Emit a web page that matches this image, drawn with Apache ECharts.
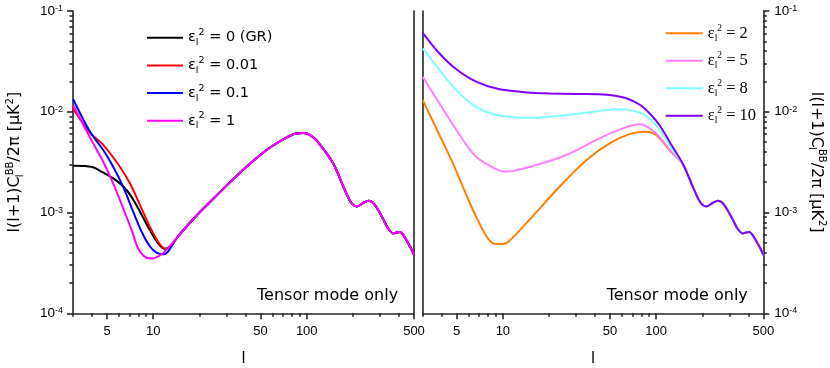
<!DOCTYPE html>
<html><head><meta charset="utf-8">
<script src="https://cdn.jsdelivr.net/npm/echarts@6/dist/echarts.min.js"></script>
<style>html,body{margin:0;padding:0;background:#fff}#c{width:830px;height:368px}</style>
</head><body><div id="c"></div><script>
// ---------- data (multipole l, l(l+1)C_l^BB/2pi in muK^2) ----------
// shared high-l tail (all curves)
const tailL = [150, 175, 195, 213, 235, 253, 270, 290, 315, 340, 367, 385, 405, 425, 450, 475, 500];
const tailV = [3.0e-3, 1.75e-3, 1.25e-3, 1.15e-3, 1.25e-3, 1.31e-3, 1.25e-3, 1.08e-3, 8.6e-4, 6.9e-4, 6.2e-4, 6.35e-4, 6.4e-4, 6.0e-4, 5.2e-4, 4.5e-4, 3.8e-4];
// shared mid-l part of the left panel curves
const midL = [14, 16, 20, 25, 30, 40, 50, 60, 70, 85, 95, 110, 125];
const midV = [5.4e-4, 6.9e-4, 1.0e-3, 1.4e-3, 1.85e-3, 2.8e-3, 3.75e-3, 4.6e-3, 5.3e-3, 6.1e-3, 6.15e-3, 5.6e-3, 4.5e-3];
// left panel, low l
const grL = [3, 4, 4.7, 5.5, 6.4, 7.2, 8.2, 9.5, 10.8, 11.9, 13];
const grV = [2.91e-3, 2.83e-3, 2.5e-3, 2.18e-3, 1.8e-3, 1.44e-3, 1.02e-3, 6.7e-4, 4.9e-4, 4.35e-4, 4.6e-4];
const e001L = [3, 3.86, 4.72, 6.06, 7.04, 8.19, 9.52, 10.78, 11.9, 13];
const e001V = [1.08e-2, 6.2e-3, 4.7e-3, 2.85e-3, 1.95e-3, 1.19e-3, 7.2e-4, 5.1e-4, 4.4e-4, 4.6e-4];
const e01L = [3, 3.86, 4.72, 5.48, 6.37, 7.4, 8.4, 9.52, 10.5, 11.6, 12.5];
const e01V = [1.34e-2, 6.4e-3, 4.17e-3, 2.85e-3, 1.8e-3, 1.02e-3, 6.45e-4, 4.6e-4, 4.0e-4, 3.85e-4, 4.1e-4];
const e1L = [3, 3.86, 4.72, 5.48, 6.37, 7.23, 7.98, 9.05, 10, 10.5, 11.5, 12.2];
const e1V = [1.17e-2, 5.6e-3, 3.19e-3, 1.95e-3, 1.1e-3, 6.7e-4, 4.4e-4, 3.56e-4, 3.5e-4, 3.6e-4, 3.9e-4, 4.3e-4];
// right panel, l < 150
const e2L = [3, 3.86, 4.72, 5.91, 6.69, 7.98, 9.05, 10, 11.05, 14.2, 23.4, 35, 49.6, 67, 86, 100, 122];
const e2V = [1.31e-2, 5.87e-3, 3.08e-3, 1.38e-3, 9.1e-4, 5.55e-4, 4.87e-4, 4.87e-4, 5.25e-4, 7.8e-4, 1.8e-3, 3.3e-3, 4.86e-3, 6.0e-3, 6.34e-3, 5.9e-3, 4.17e-3];
const e5L = [3, 3.86, 4.97, 6.69, 9.5, 10.5, 15.7, 25.9, 42.7, 60.6, 78, 100, 128];
const e5V = [2.22e-2, 1.21e-2, 6.6e-3, 3.58e-3, 2.6e-3, 2.55e-3, 2.9e-3, 3.72e-3, 5.45e-3, 6.84e-3, 7.5e-3, 6.1e-3, 3.87e-3];
const e8L = [3, 3.86, 4.97, 6.69, 9.5, 15.7, 25.9, 42.7, 55, 65, 78, 90, 105, 128];
const e8V = [4.26e-2, 2.6e-2, 1.64e-2, 1.12e-2, 9.2e-3, 8.7e-3, 9.3e-3, 1.02e-2, 1.06e-2, 1.05e-2, 9.8e-3, 8.6e-3, 6.7e-3, 4.17e-3];
const e10L = [3, 3.86, 4.97, 6.69, 9.5, 15.7, 20.1, 30, 42.7, 55, 63.9, 72, 81.6, 92, 105, 128];
const e10V = [6.08e-2, 3.79e-2, 2.64e-2, 1.99e-2, 1.67e-2, 1.54e-2, 1.52e-2, 1.5e-2, 1.49e-2, 1.43e-2, 1.36e-2, 1.26e-2, 1.12e-2, 9.4e-3, 7.4e-3, 4.5e-3];

const leftNames = ['GR', 'e0.01', 'e0.1', 'e1'];
const leftLegend = ['= 0 (GR)', '= 0.01', '= 0.1', '= 1'];
const leftColors = ['#000000', '#ff0000', '#0000ff', '#ff00ff'];
const rightNames = ['e2', 'e5', 'e8', 'e10'];
const rightLegend = ['= 2', '= 5', '= 8', '= 10'];
const rightColors = ['#ff8000', '#ff80ff', '#80ffff', '#8000ff'];

// axis ticks
const xRange = [3, 500];
const xMajorTicks = [5, 10, 50, 100, 500];
const xMinorTicks = [3, 4, 6, 7, 8, 9, 20, 30, 40, 60, 70, 80, 90, 200, 300, 400];
const yRange = [1e-4, 1e-1];
const yMajorTicks = [1e-4, 1e-3, 1e-2, 1e-1];
const yMinorMult = [2, 3, 4, 5, 6, 7, 8, 9];
const yMinorDecades = [1e-4, 1e-3, 1e-2];

// ---------- build ----------
const LG = Math.log10;
function pts(ls, vs) { return ls.map((l, i) => [LG(l), LG(vs[i])]); }
const yMinorTicks = [];
yMinorDecades.forEach(d => yMinorMult.forEach(m => yMinorTicks.push(d * m)));

const FONT = 'Liberation Sans';
const WIDE = 'DejaVu Sans';
const AX = { color: '#262626', width: 1.6 };

function xAxes(gi) {
  return [
    { type: 'value', gridIndex: gi, position: 'bottom', min: LG(xRange[0]), max: LG(xRange[1]),
      axisLine: { lineStyle: AX }, splitLine: { show: false },
      axisTick: { customValues: xMajorTicks.map(LG), length: 6, lineStyle: AX },
      axisLabel: { customValues: xMajorTicks.map(LG), margin: 12, fontSize: 13, fontFamily: FONT, color: '#000',
        formatter: v => String(Math.round(Math.pow(10, v))) },
      name: 'l', nameLocation: 'middle', nameGap: 37, nameTextStyle: { fontSize: 16, fontFamily: FONT, color: '#000' } },
    { type: 'value', gridIndex: gi, position: 'bottom', min: LG(xRange[0]), max: LG(xRange[1]),
      axisLine: { show: false }, splitLine: { show: false },
      axisTick: { customValues: xMinorTicks.map(LG), length: 3.5, lineStyle: AX },
      axisLabel: { show: false } }
  ];
}
const yLabelRich = {
  b: { fontSize: 13.5, lineHeight: 14, fontFamily: FONT, color: '#000' },
  s: { fontSize: 9, lineHeight: 8, verticalAlign: 'top', fontFamily: FONT, color: '#000' }
};
const nameRich = {
  t: { fontSize: 16, lineHeight: 20, fontFamily: WIDE, color: '#000' },
  sub: { fontSize: 10, lineHeight: 10, width: 1, verticalAlign: 'bottom', fontFamily: WIDE, color: '#000' },
  sup: { fontSize: 10, lineHeight: 10, verticalAlign: 'top', fontFamily: WIDE, color: '#000' }
};
const yName = '{t|l(l+1)C}{sub|l}{sup|BB}{t|/2π [μK}{sup|2}{t|]}';
function yMajor(gi, pos, withName) {
  const a = { type: 'value', gridIndex: gi, position: pos, min: LG(yRange[0]), max: LG(yRange[1]),
    axisLine: { show: true, lineStyle: AX }, splitLine: { show: false },
    axisTick: { customValues: yMajorTicks.map(LG), length: 6, lineStyle: AX },
    axisLabel: { customValues: yMajorTicks.map(LG), margin: pos === 'left' ? 10 : 11, rich: yLabelRich,
      formatter: v => '{b|10}{s|' + Math.round(v) + '}' } };
  if (withName) {
    a.name = yName; a.nameLocation = 'middle';
    a.nameRotate = pos === 'left' ? 90 : -90;
    a.nameGap = pos === 'left' ? 48 : 43;
    a.nameTextStyle = { rich: nameRich };
  }
  return a;
}
function yMinor(gi, pos) {
  return { type: 'value', gridIndex: gi, position: pos, min: LG(yRange[0]), max: LG(yRange[1]),
    axisLine: { show: false }, splitLine: { show: false },
    axisTick: { customValues: yMinorTicks.map(LG), length: 3.5, lineStyle: AX },
    axisLabel: { show: false } };
}
function yLineOnly(gi, pos) {
  return { type: 'value', gridIndex: gi, position: pos, min: LG(yRange[0]), max: LG(yRange[1]),
    axisLine: { show: true, lineStyle: AX }, splitLine: { show: false },
    axisTick: { show: false }, axisLabel: { show: false } };
}

const leftData = [
  pts(grL.concat(midL, tailL), grV.concat(midV, tailV)),
  pts(e001L.concat(midL, tailL), e001V.concat(midV, tailV)),
  pts(e01L.concat(midL, tailL), e01V.concat(midV, tailV)),
  pts(e1L.concat(midL, tailL), e1V.concat(midV, tailV))
];
const rightData = [
  pts(e2L.concat(tailL), e2V.concat(tailV)),
  pts(e5L.concat(tailL), e5V.concat(tailV)),
  pts(e8L.concat(tailL), e8V.concat(tailV)),
  pts(e10L.concat(tailL), e10V.concat(tailV))
];
const series = [];
leftNames.forEach((n, i) => series.push({ type: 'line', name: n, xAxisIndex: 0, yAxisIndex: 0,
  data: leftData[i], showSymbol: false, symbol: 'none', smooth: 0.3, lineStyle: { color: leftColors[i], width: 2 },
  itemStyle: { color: leftColors[i] }, silent: true }));
rightNames.forEach((n, i) => series.push({ type: 'line', name: n, xAxisIndex: 2, yAxisIndex: 4,
  data: rightData[i], showSymbol: false, symbol: 'none', smooth: 0.3, lineStyle: { color: rightColors[i], width: 2 },
  itemStyle: { color: rightColors[i] }, silent: true }));

function legendRich(fam, fs) {
  return {
    e: { fontSize: fs, lineHeight: 20, fontFamily: fam, color: '#000' },
    sub: { fontSize: 9.5, lineHeight: 9, verticalAlign: 'bottom', fontFamily: fam, color: '#000' },
    sup: { fontSize: 9.5, lineHeight: 9, verticalAlign: 'top', fontFamily: fam, color: '#000' },
    t: { fontSize: fs, lineHeight: 20, fontFamily: fam, color: '#000' }
  };
}

const option = {
  animation: false,
  backgroundColor: '#ffffff',
  grid: [
    { left: 73, top: 11, width: 341, height: 302.3, outerBoundsMode: 'none' },
    { left: 422.7, top: 11, width: 340.6, height: 302.3, outerBoundsMode: 'none' }
  ],
  xAxis: xAxes(0).concat(xAxes(1)),
  yAxis: [yMajor(0, 'left', true), yMinor(0, 'left'), yLineOnly(0, 'right'),
          yLineOnly(1, 'left'), yMajor(1, 'right', true), yMinor(1, 'right')],
  legend: [
    { data: leftNames, orient: 'vertical', left: 147, top: 27.7, itemWidth: 36, itemHeight: 2, itemGap: 7.7,
      icon: 'rect', padding: 0,
      formatter: n => '{e|ε}{sub|l}{sup|2}{t| ' + leftLegend[leftNames.indexOf(n)] + '}',
      textStyle: { rich: legendRich(WIDE, 14.5) }, selectedMode: false },
    { data: rightNames, orient: 'vertical', left: 665.7, top: 23.3, itemWidth: 37, itemHeight: 2, itemGap: 7.5,
      icon: 'rect', padding: 0,
      formatter: n => '{e|ε}{sub|l}{sup|2}{t| ' + rightLegend[rightNames.indexOf(n)] + '}',
      textStyle: { rich: legendRich('Liberation Serif', 16.5) }, selectedMode: false }
  ],
  title: [
    { text: 'Tensor mode only', left: 257, top: 288, padding: 0,
      textStyle: { fontSize: 16, fontWeight: 'normal', fontFamily: WIDE, color: '#000' } },
    { text: 'Tensor mode only', left: 606.7, top: 288, padding: 0,
      textStyle: { fontSize: 16, fontWeight: 'normal', fontFamily: WIDE, color: '#000' } }
  ],
  series: series
};
const chart = echarts.init(document.getElementById('c'), null, { renderer: 'canvas' });
chart.setOption(option);
</script></body></html>
